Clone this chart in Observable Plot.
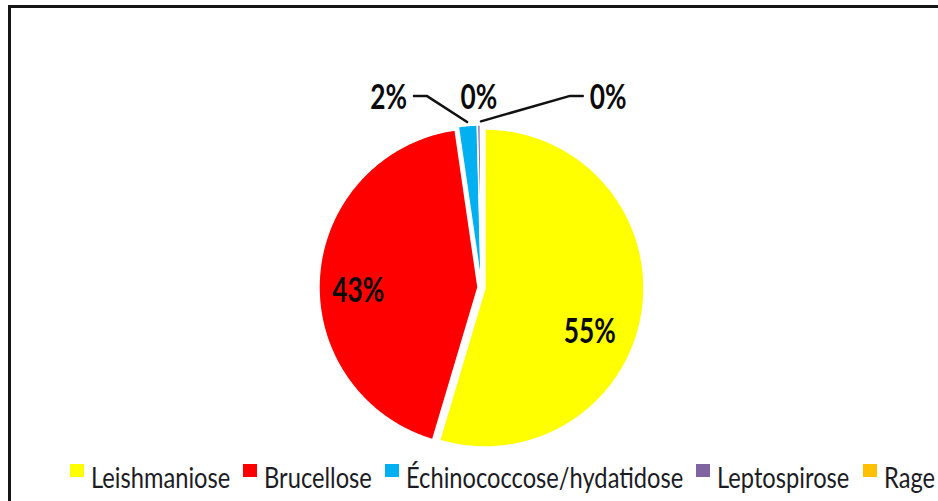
<!DOCTYPE html>
<html><head><meta charset="utf-8">
<script src="https://cdn.jsdelivr.net/npm/d3@7"></script>
<script src="https://cdn.jsdelivr.net/npm/@observablehq/plot@0.6"></script>
<style>
body{margin:0;background:#fff;width:938px;height:501px;overflow:hidden;position:relative;font-family:Lato,sans-serif;}
#frame{position:absolute;left:8px;top:5px;width:980px;height:540px;border:3px solid #151515;box-sizing:border-box;}
#chart{position:absolute;left:0;top:0;}
#legend{position:absolute;left:70px;top:460px;width:900px;white-space:nowrap;}
#legend .lg-swatches{font-family:Lato,sans-serif;font-size:28px;line-height:28px;color:#1c1c24;margin:0;flex-wrap:nowrap;}
#legend .lg-swatch{align-items:flex-start;margin-right:13px;}
#legend .lg-swatch>svg{margin-right:7px;margin-top:1px;}
#legend .lt{display:inline-block;transform-origin:left center;}
</style></head><body>
<div id="frame"></div><div id="chart"></div><div id="legend"></div>
<script>
const categories = ["Leishmaniose","Brucellose","Échinococcose/hydatidose","Leptospirose","Rage"];
const values = [54.6, 43.1, 1.9, 0.3, 0.1];
const colors = ["#FFFF00","#FF0000","#00B0F0","#8064A2","#FFC000"];

const cx = 481, cy = 287, R = 159, explode = 0.022;
const total = d3.sum(values);
const arcs = d3.pie().sort(null).value(d => d)(values);

const slicePts = [];
const labels = [];
const leaders = [];
const outsideShift = [-0.5, 0, 0.8];
const insideNudge = [[-5, 28], [-9, 12]]; // pixel nudges for inside labels
let j = 0;
arcs.forEach((a, i) => {
  const mid = (a.startAngle + a.endAngle) / 2;
  const ox = explode * Math.sin(mid), oy = explode * Math.cos(mid);
  const n = Math.max(2, Math.ceil((a.endAngle - a.startAngle) / 0.01));
  slicePts.push({cat: categories[i], x: ox, y: oy});
  for (let k = 0; k <= n; k++) {
    const t = a.startAngle + (a.endAngle - a.startAngle) * k / n;
    slicePts.push({cat: categories[i], x: ox + Math.sin(t), y: oy + Math.cos(t)});
  }
  slicePts.push({cat: categories[i], x: ox, y: oy});
  const txt = Math.round(values[i] / total * 100) + "%";
  if (values[i] / total >= 0.05) {
    const [ndx, ndy] = insideNudge[i];
    labels.push({text: txt, x: 0.72 * Math.sin(mid) + ndx / R, y: 0.72 * Math.cos(mid) - ndy / R});
  } else {
    const s = outsideShift[j++];
    const lx = Math.sin(mid) + s, ly = 1.195;
    labels.push({text: txt, x: lx, y: ly});
    if (s !== 0) {
      const side = s < 0 ? 1 : -1;
      const e1 = lx + side * 0.16, e2 = lx + side * 0.24;
      leaders.push({id: i, x: e1, y: ly + 0.01});
      leaders.push({id: i, x: e2, y: ly + 0.01});
      leaders.push({id: i, x: 1.045 * Math.sin(mid) + ox, y: 1.045 * Math.cos(mid)});
    }
  }
});

const plot = Plot.plot({
  width: 938, height: 452,
  margin: 0,
  x: {domain: [-1, 1], range: [cx - R, cx + R], axis: null},
  y: {domain: [-1, 1], range: [cy + R, cy - R], axis: null},
  color: {domain: categories, range: colors},
  style: {background: "transparent", fontFamily: "Lato, sans-serif"},
  marks: [
    Plot.line(slicePts, {x: "x", y: "y", z: "cat", fill: "cat", stroke: "white", strokeWidth: 1.5, curve: "linear"}),
    Plot.line(leaders, {x: "x", y: "y", z: "id", stroke: "#111", strokeWidth: 2.5}),
    Plot.text(labels, {x: "x", y: "y", text: "text", fontSize: 35, fontWeight: "bold", fill: "#0a0a0a"})
  ]
});
document.getElementById("chart").appendChild(plot);

// condense label glyphs (Calibri-like narrow look)
const texts = plot.querySelectorAll("text");
let ref = null;
texts.forEach(el => { if (el.textContent === "55%") ref = el; });
const sLab = ref ? 52 / ref.getBBox().width : 0.8;
texts.forEach(el => {
  const t = el.getAttribute("transform");
  if (t) el.setAttribute("transform", t + ` scale(${sLab},1)`);
  else {
    const x = +el.getAttribute("x") || 0, y = +el.getAttribute("y") || 0;
    el.setAttribute("transform", `translate(${x},${y}) scale(${sLab},1)`);
    el.setAttribute("x", 0); el.setAttribute("y", 0);
  }
});

const legend = Plot.legend({color: {type: "ordinal", domain: categories, range: colors}, swatchWidth: 14, swatchHeight: 13, className: "lg"});
document.getElementById("legend").appendChild(legend);
// wrap label text nodes and condense them
const spans = [];
legend.querySelectorAll(".lg-swatch").forEach(sw => {
  [...sw.childNodes].forEach(nd => {
    if (nd.nodeType === 3 && nd.textContent.trim()) {
      const sp = document.createElement("span");
      sp.className = "lt";
      sp.textContent = nd.textContent;
      sw.replaceChild(sp, nd);
      spans.push(sp);
    }
  });
});
const sumW = d3.sum(spans, sp => sp.offsetWidth);
const sLeg = (865 - 5 * 21 - 4 * 13) / sumW;
spans.forEach(sp => {
  const w = sp.offsetWidth;
  sp.style.transform = `scaleX(${sLeg})`;
  sp.style.marginRight = (-(1 - sLeg) * w) + "px";
});
</script>
</body></html>
